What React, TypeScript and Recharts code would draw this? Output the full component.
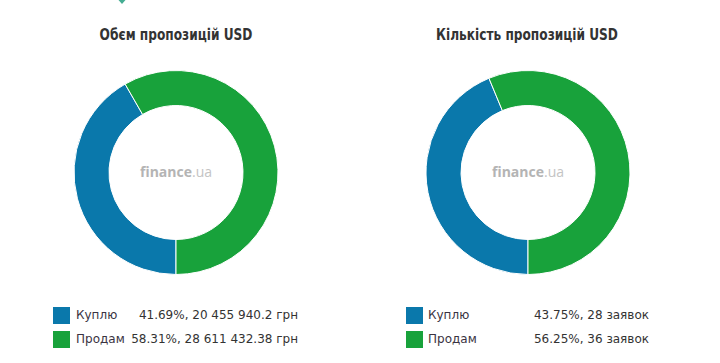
import React from 'react';
import { PieChart, Pie, Cell } from 'recharts';

const categories = ['Куплю', 'Продам'];
const colors = ['#0a78ab', '#18a23b'];

const volumeTitle = 'Обєм пропозицій USD';
const volumeValues = [20455940.2, 28611432.38];
const volumeValueLabels = ['20 455 940.2', '28 611 432.38'];
const volumePercents = ['41.69', '58.31'];

const countTitle = 'Кількість пропозицій USD';
const countValues = [28, 36];
const countPercents = ['43.75', '56.25'];

const volumeData = categories.map((name, i) => ({ name, value: volumeValues[i] }));
const countData = categories.map((name, i) => ({ name, value: countValues[i] }));

const volumeLegend = categories.map((name, i) => ({
  name,
  text: `${volumePercents[i]}%, ${volumeValueLabels[i]} грн`,
}));
const countLegend = categories.map((name, i) => ({
  name,
  text: `${countPercents[i]}%, ${countValues[i]} заявок`,
}));

const Watermark = ({ cx }: { cx: number }) => (
  <div
    style={{
      position: 'absolute',
      left: cx - 60,
      top: 163,
      width: 120,
      textAlign: 'center',
      fontFamily: '"Open Sans", sans-serif',
      fontSize: 14,
      lineHeight: '18px',
      whiteSpace: 'nowrap',
    }}
  >
    <span style={{ color: '#b4b4b4', fontWeight: 700 }}>finance</span>
    <span style={{ color: '#c4c4c4', fontWeight: 400 }}>.ua</span>
  </div>
);

const titleStyle: React.CSSProperties = {
  position: 'absolute',
  top: 25,
  width: 300,
  textAlign: 'center',
  fontFamily: '"DejaVu Sans Condensed", "DejaVu Sans", sans-serif',
  fontWeight: 700,
  fontSize: 16.5,
  lineHeight: '20px',
  color: '#333',
  whiteSpace: 'nowrap',
  transform: 'scaleX(0.82)',
  transformOrigin: 'center',
};

const LegendBox = ({ items, left, labelLeft, right }: any) => (
  <div style={{ position: 'absolute', top: 307, left, width: right - left }}>
    {items.map((it: any, i: number) => (
      <div key={it.name} style={{ position: 'relative', height: 17, marginBottom: 7 }}>
        <div style={{ position: 'absolute', left: 0, top: 0, width: 17, height: 17, background: colors[i] }} />
        <div
          style={{
            position: 'absolute',
            left: labelLeft - left,
            top: 0,
            lineHeight: '17px',
            fontFamily: '"DejaVu Sans", sans-serif',
            fontSize: 12,
            color: '#3a3342',
            whiteSpace: 'nowrap',
          }}
        >
          {it.name}
        </div>
        <div
          style={{
            position: 'absolute',
            right: 0,
            top: 0,
            lineHeight: '17px',
            fontFamily: '"DejaVu Sans", sans-serif',
            fontSize: 12,
            color: '#333',
            whiteSpace: 'nowrap',
          }}
        >
          {it.text}
        </div>
      </div>
    ))}
  </div>
);

export default function App() {
  return (
    <div style={{ position: 'absolute', left: 0, top: 0, width: 720, height: 363, background: '#fff', overflow: 'hidden' }}>
      <svg style={{ position: 'absolute', left: 114, top: -4 }} width={16} height={10}>
        <polygon points="1,0 15,0 8,8" fill="#45ad93" />
      </svg>
      <div style={{ ...titleStyle, left: 26 }}>{volumeTitle}</div>
      <div style={{ ...titleStyle, left: 377 }}>{countTitle}</div>
      <div style={{ position: 'absolute', left: 0, top: 0 }}>
        <PieChart width={720} height={290} margin={{ top: 0, right: 0, bottom: 0, left: 0 }}>
          <Pie
            data={volumeData}
            dataKey="value"
            nameKey="name"
            cx={176}
            cy={172.5}
            innerRadius={67}
            outerRadius={102}
            startAngle={-90}
            endAngle={-450}
            stroke="#fff"
            strokeWidth={1}
            isAnimationActive={false}
          >
            {volumeData.map((d, i) => (
              <Cell key={d.name} fill={colors[i]} />
            ))}
          </Pie>
          <Pie
            data={countData}
            dataKey="value"
            nameKey="name"
            cx={528}
            cy={172.5}
            innerRadius={67}
            outerRadius={102}
            startAngle={-90}
            endAngle={-450}
            stroke="#fff"
            strokeWidth={1}
            isAnimationActive={false}
          >
            {countData.map((d, i) => (
              <Cell key={d.name} fill={colors[i]} />
            ))}
          </Pie>
        </PieChart>
      </div>
      <Watermark cx={176} />
      <Watermark cx={528} />
      <LegendBox items={volumeLegend} left={53} labelLeft={76} right={298} />
      <LegendBox items={countLegend} left={406} labelLeft={428} right={649} />
    </div>
  );
}
